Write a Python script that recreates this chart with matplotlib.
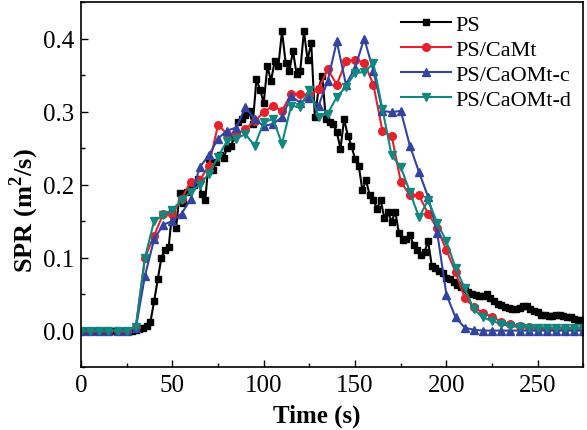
import numpy as np
import matplotlib
matplotlib.use('Agg')
import matplotlib.pyplot as plt
from matplotlib.ticker import MultipleLocator

plt.rcParams['font.family'] = ['Liberation Serif', 'DejaVu Serif']
plt.rcParams['mathtext.fontset'] = 'custom'
plt.rcParams['mathtext.rm'] = 'Liberation Serif'
plt.rcParams['mathtext.bf'] = 'Liberation Serif:bold'

# PS sampled every 2 s
t_ps = np.arange(0, 276, 2)
ps = [0, 0, 0, 0, 0, 0, 0, 0, 0, 0,
      0, 0, 0, 0, 0, 0.001, 0.002, 0.004, 0.006, 0.012,
      0.04, 0.07, 0.10, 0.111, 0.115, 0.165, 0.14, 0.188, 0.175, 0.19,
      0.196, 0.2, 0.208, 0.187, 0.179, 0.235, 0.22, 0.231, 0.24, 0.236,
      0.25, 0.253, 0.265, 0.285, 0.29, 0.295, 0.301, 0.283, 0.344, 0.33,
      0.312, 0.362, 0.342, 0.369, 0.362, 0.41, 0.367, 0.355, 0.383, 0.351,
      0.356, 0.41, 0.371, 0.394, 0.292, 0.331, 0.349, 0.29, 0.285, 0.283,
      0.272, 0.249, 0.29, 0.267, 0.253, 0.235, 0.226, 0.192, 0.206, 0.185,
      0.179, 0.167, 0.179, 0.154, 0.163, 0.149, 0.163, 0.133, 0.124, 0.126,
      0.131, 0.117, 0.111, 0.104, 0.108, 0.122, 0.088, 0.086, 0.082, 0.079,
      0.072, 0.07, 0.066, 0.062, 0.06, 0.057, 0.053, 0.05, 0.049, 0.047,
      0.048, 0.05, 0.044, 0.041, 0.037, 0.035, 0.032, 0.031, 0.03, 0.029,
      0.031, 0.034, 0.033, 0.029, 0.027, 0.025, 0.022, 0.021, 0.02, 0.02,
      0.021, 0.022, 0.02, 0.018, 0.018, 0.016, 0.015, 0.014]

# composites sampled every 5 s
t_c = np.arange(0, 276, 5)
camt = [0, 0, 0, 0, 0, 0, 0.005, 0.10, 0.13, 0.16,
        0.16, 0.18, 0.204, 0.206, 0.226, 0.282, 0.269, 0.269, 0.276, 0.287,
        0.299, 0.308, 0.301, 0.324, 0.324, 0.322, 0.331, 0.358, 0.337, 0.369,
        0.371, 0.367, 0.337, 0.273, 0.267, 0.204, 0.185, 0.185, 0.16, 0.14,
        0.11, 0.08, 0.045, 0.032, 0.024, 0.019, 0.012, 0.009, 0.006, 0.005,
        0.004, 0.004, 0.003, 0.003, 0.003, 0.003]
caomt_c = [0, 0, 0, 0, 0, 0, 0.003, 0.075, 0.125, 0.145,
           0.15, 0.16, 0.18, 0.224, 0.24, 0.263, 0.274, 0.278, 0.306, 0.29,
           0.28, 0.283, 0.292, 0.321, 0.312, 0.319, 0.308, 0.342, 0.396, 0.337,
           0.36, 0.40, 0.356, 0.301, 0.299, 0.301, 0.253, 0.217, 0.183, 0.133,
           0.049, 0.018, 0.004, 0.001, 0, 0, 0, 0, 0, 0,
           0, 0, 0, 0, 0, 0]
caomt_d = [0, 0, 0, 0, 0, 0, 0.005, 0.10, 0.15, 0.158,
           0.165, 0.179, 0.19, 0.20, 0.215, 0.238, 0.26, 0.263, 0.269, 0.253,
           0.285, 0.29, 0.256, 0.308, 0.306, 0.33, 0.293, 0.297, 0.32, 0.334,
           0.353, 0.354, 0.366, 0.303, 0.24, 0.224, 0.19, 0.155, 0.179, 0.147,
           0.122, 0.086, 0.058, 0.029, 0.018, 0.013, 0.009, 0.006, 0.005, 0.004,
           0.004, 0.004, 0.003, 0.003, 0.003, 0.003]

fig = plt.figure(figsize=(5.87, 4.31), dpi=100)
ax = fig.add_axes([0.138, 0.146, 0.856, 0.847])

ax.plot(t_ps, ps, color='black', marker='s', markersize=5, lw=1.5, label='PS')
ax.plot(t_c, camt, color='#e8202a', marker='o', markersize=5.5, lw=1.5, label='PS/CaMt')
ax.plot(t_c, caomt_c, color='#3344a0', marker='^', markersize=6, lw=1.5, label='PS/CaOMt-c')
ax.plot(t_c, caomt_d, color='#10877f', marker='v', markersize=6, lw=1.5, label='PS/CaOMt-d')

ax.set_xlim(0, 275)
ax.set_ylim(-0.05, 0.45)
ax.xaxis.set_major_locator(MultipleLocator(50))
ax.xaxis.set_minor_locator(MultipleLocator(25))
ax.yaxis.set_major_locator(MultipleLocator(0.1))
ax.yaxis.set_minor_locator(MultipleLocator(0.05))
ax.yaxis.set_major_formatter(plt.FormatStrFormatter('%.1f'))
ax.tick_params(which='both', direction='in', top=False, right=False, labelsize=18, pad=5)
ax.tick_params(which='major', length=5, width=1)
ax.tick_params(which='minor', length=3, width=1)
for s in ax.spines.values():
    s.set_linewidth(1.2)

ax.set_xlabel('Time (s)', fontsize=18, fontweight='bold')
ax.xaxis.set_label_coords(0.47, -0.1)
ax.set_ylabel(r'SPR (m$^{\mathbf{2}}$/s)', fontsize=19, fontweight='bold')
ax.yaxis.set_label_coords(-0.08, 0.43)

ax.legend(loc='upper right', frameon=False, fontsize=16, handlelength=2.25,
          labelspacing=0.2, borderaxespad=0.15, handletextpad=0.2)

fig.savefig('out.png', dpi=100)
